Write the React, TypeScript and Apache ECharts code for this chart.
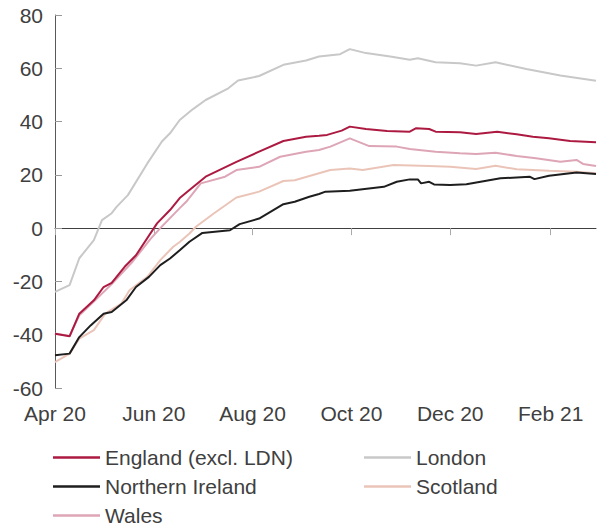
import React, { useEffect, useRef } from "react";
import * as echarts from "echarts";

const xMin = "2020-04-01";
const xMax = "2021-03-01";
const tickDates = ["2020-04-01", "2020-06-01", "2020-08-01", "2020-10-01", "2020-12-01", "2021-02-01"];
const monthNames = ["Jan", "Feb", "Mar", "Apr", "May", "Jun", "Jul", "Aug", "Sep", "Oct", "Nov", "Dec"];

const englandData: [string, number][] = [
  ["2020-04-01", -39.6], ["2020-04-10", -40.6], ["2020-04-16", -32.1], ["2020-04-25", -27.1],
  ["2020-05-01", -22.1], ["2020-05-06", -20.5], ["2020-05-14", -14.5], ["2020-05-21", -10.2],
  ["2020-06-03", 1.8], ["2020-06-11", 6.8], ["2020-06-17", 11.3], ["2020-06-23", 14.3],
  ["2020-07-03", 19.3], ["2020-07-22", 24.9], ["2020-08-05", 28.7], ["2020-08-20", 32.7],
  ["2020-09-03", 34.3], ["2020-09-11", 34.7], ["2020-09-16", 35.0], ["2020-09-25", 36.6],
  ["2020-09-30", 38.1], ["2020-10-10", 37.2], ["2020-10-23", 36.5], ["2020-11-06", 36.2],
  ["2020-11-10", 37.5], ["2020-11-18", 37.2], ["2020-11-22", 36.2], ["2020-12-07", 36.0],
  ["2020-12-17", 35.3], ["2020-12-30", 36.2], ["2021-01-11", 35.2], ["2021-01-21", 34.3],
  ["2021-01-31", 33.7], ["2021-02-13", 32.7], ["2021-03-01", 32.2],
];

const londonData: [string, number][] = [
  ["2020-04-01", -23.9], ["2020-04-10", -21.4], ["2020-04-16", -11.3], ["2020-04-25", -4.5],
  ["2020-04-30", 3.0], ["2020-05-06", 5.6], ["2020-05-09", 8.0], ["2020-05-16", 12.4],
  ["2020-05-28", 24.3], ["2020-06-06", 32.5], ["2020-06-11", 35.6], ["2020-06-17", 40.6],
  ["2020-06-25", 44.6], ["2020-07-03", 48.1], ["2020-07-17", 52.5], ["2020-07-23", 55.4],
  ["2020-08-05", 57.1], ["2020-08-20", 61.3], ["2020-09-03", 62.9], ["2020-09-11", 64.4],
  ["2020-09-24", 65.3], ["2020-09-30", 67.2], ["2020-10-10", 65.7], ["2020-10-25", 64.4],
  ["2020-11-06", 63.2], ["2020-11-11", 63.8], ["2020-11-22", 62.3], ["2020-12-07", 61.9],
  ["2020-12-17", 61.0], ["2020-12-29", 62.3], ["2021-01-17", 59.7], ["2021-02-07", 57.3],
  ["2021-03-01", 55.3],
];

const niData: [string, number][] = [
  ["2020-04-01", -47.7], ["2020-04-10", -47.1], ["2020-04-16", -40.9], ["2020-04-23", -36.5],
  ["2020-05-01", -32.1], ["2020-05-06", -31.5], ["2020-05-15", -27.1], ["2020-05-21", -22.1],
  ["2020-05-29", -18.3], ["2020-06-05", -13.9], ["2020-06-11", -11.4], ["2020-06-17", -8.3],
  ["2020-06-23", -5.1], ["2020-07-01", -1.8], ["2020-07-18", -0.8], ["2020-07-24", 1.5],
  ["2020-08-05", 3.6], ["2020-08-20", 9.0], ["2020-08-27", 9.9], ["2020-09-05", 11.8],
  ["2020-09-11", 12.8], ["2020-09-15", 13.7], ["2020-09-30", 14.0], ["2020-10-21", 15.5],
  ["2020-10-29", 17.4], ["2020-11-06", 18.3], ["2020-11-11", 18.3], ["2020-11-13", 16.8],
  ["2020-11-18", 17.4], ["2020-11-21", 16.4], ["2020-12-01", 16.2], ["2020-12-11", 16.5],
  ["2021-01-01", 18.7], ["2021-01-19", 19.3], ["2021-01-22", 18.4], ["2021-01-31", 19.7],
  ["2021-02-17", 20.9], ["2021-03-01", 20.3],
];

const scotlandData: [string, number][] = [
  ["2020-04-01", -50.3], ["2020-04-10", -47.1], ["2020-04-16", -41.5], ["2020-04-25", -38.3],
  ["2020-05-02", -32.1], ["2020-05-12", -28.3], ["2020-05-17", -23.3], ["2020-05-28", -18.3],
  ["2020-06-05", -12.0], ["2020-06-13", -7.0], ["2020-06-17", -5.2], ["2020-06-23", -2.0],
  ["2020-06-27", 0.5], ["2020-07-08", 5.5], ["2020-07-22", 11.5], ["2020-08-05", 13.7],
  ["2020-08-20", 17.7], ["2020-08-27", 18.0], ["2020-09-11", 20.6], ["2020-09-18", 21.8],
  ["2020-09-30", 22.4], ["2020-10-08", 21.8], ["2020-10-27", 23.7], ["2020-11-18", 23.3],
  ["2020-12-01", 23.0], ["2020-12-17", 22.2], ["2020-12-29", 23.4], ["2021-01-11", 22.1],
  ["2021-01-31", 21.5], ["2021-02-17", 21.2], ["2021-03-01", 20.6],
];

const walesData: [string, number][] = [
  ["2020-04-01", -39.5], ["2020-04-10", -40.5], ["2020-04-16", -32.7], ["2020-04-25", -27.5],
  ["2020-05-06", -21.0], ["2020-05-19", -12.5], ["2020-05-30", -4.0], ["2020-06-05", 0.0],
  ["2020-06-17", 7.5], ["2020-06-21", 9.9], ["2020-06-30", 16.8], ["2020-07-15", 19.3],
  ["2020-07-22", 21.8], ["2020-08-05", 23.0], ["2020-08-18", 26.8], ["2020-09-03", 28.7],
  ["2020-09-11", 29.3], ["2020-09-18", 30.6], ["2020-09-30", 33.7], ["2020-10-12", 30.8],
  ["2020-10-29", 30.6], ["2020-11-06", 29.7], ["2020-11-22", 28.7], ["2020-12-07", 28.1],
  ["2020-12-17", 27.8], ["2020-12-29", 28.3], ["2021-01-11", 27.1], ["2021-01-23", 26.2],
  ["2021-02-07", 24.9], ["2021-02-17", 25.6], ["2021-02-21", 24.1], ["2021-03-01", 23.3],
];

const FONT = "Liberation Sans, Arial, sans-serif";
const TEXT = "#404040";
const FS = 21;

function toTs(s: string): number {
  const [y, m, d] = s.split("-").map(Number);
  return new Date(y, m - 1, d).getTime();
}

export default function App() {
  const ref = useRef<HTMLDivElement>(null);
  useEffect(() => {
    if (!ref.current) return;
    const chart = echarts.init(ref.current, null, { renderer: "svg" });
    const ticks = tickDates.map(toTs);
    const mk = (name: string, data: [string, number][], color: string, z: number) => ({
      name,
      type: "line",
      data: data.map(([d, v]) => [toTs(d), v]),
      symbol: "none",
      showSymbol: false,
      z,
      lineStyle: { color, width: 2 },
      itemStyle: { color },
    });
    const legendBase = {
      orient: "vertical",
      top: 447,
      height: 79,
      padding: 0,
      icon: "rect",
      itemWidth: 47,
      itemHeight: 2.5,
      itemGap: 8,
      textStyle: { fontSize: FS, color: TEXT, fontFamily: FONT, lineHeight: 20 },
    };
    chart.setOption({
      animation: false,
      grid: { left: 55, right: 1, top: 15, bottom: 138, containLabel: false, outerBoundsMode: "none" },
      xAxis: [
        {
          type: "value",
          min: toTs(xMin),
          max: toTs(xMax),
          position: "bottom",
          axisLine: { show: false, onZero: false },
          axisTick: { show: false },
          splitLine: { show: false },
          axisLabel: {
            customValues: ticks,
            fontSize: FS,
            color: TEXT,
            fontFamily: FONT,
            margin: 15,
            formatter: (v: number) => {
              const d = new Date(v);
              return monthNames[d.getMonth()] + " " + String(d.getFullYear()).slice(2);
            },
          },
        },
        {
          type: "value",
          min: toTs(xMin),
          max: toTs(xMax),
          position: "bottom",
          axisLine: { show: true, onZero: true, lineStyle: { color: "#404040", width: 1 } },
          axisTick: { show: true, customValues: ticks, length: 7, lineStyle: { color: "#aaaaaa", width: 1 } },
          axisLabel: { show: false },
          splitLine: { show: false },
        },
      ],
      yAxis: {
        type: "value",
        min: -60,
        max: 80,
        interval: 20,
        axisLine: { show: true, lineStyle: { color: "#595959", width: 1 } },
        axisTick: { show: true, inside: true, length: 7, lineStyle: { color: "#999999" } },
        splitLine: { show: false },
        axisLabel: { fontSize: FS, color: TEXT, fontFamily: FONT, margin: 12 },
      },
      legend: [
        { ...legendBase, left: 53, data: ["England (excl. LDN)", "Northern Ireland", "Wales"] },
        { ...legendBase, left: 364, data: ["London", "Scotland"] },
      ],
      series: [
        mk("London", londonData, "#c8c8c8", 2),
        mk("Wales", walesData, "#dda5b6", 3),
        mk("Scotland", scotlandData, "#ebc4b8", 4),
        mk("Northern Ireland", niData, "#1e1e1e", 5),
        mk("England (excl. LDN)", englandData, "#ad1a41", 6),
      ],
    });
    return () => chart.dispose();
  }, []);
  return <div ref={ref} style={{ position: "absolute", left: 0, top: 0, width: 597, height: 526 }} />;
}
